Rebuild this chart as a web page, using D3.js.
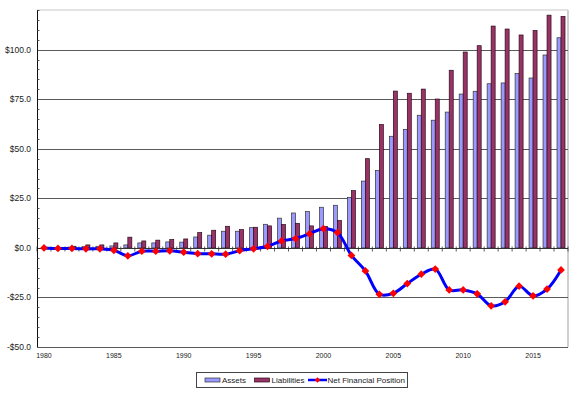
<!DOCTYPE html>
<html>
<head>
<meta charset="utf-8">
<script src="https://cdn.jsdelivr.net/npm/d3@7"></script>
<style>
  body { margin: 0; background: #fff; }
  svg { display: block; font-family: Arial, "Liberation Sans", sans-serif; }
</style>
</head>
<body>
<div id="chart"></div>
<script>
// data
const years = d3.range(1980, 2018);
const assets = [0, 0.2, 0.4, 0.6, 0.8, 1, 1.5, 2.5, 2.5, 3, 2.9, 5.5, 6.4, 8.4, 8.4, 10.2, 11.9, 15, 17.6, 18.3,
  20.5, 21.5, 25.5, 33.7, 39, 56.3, 59.8, 66.9, 64.4, 68.5, 77.6, 79, 82.8, 83.2, 88, 85.7, 97.3, 106];
const liabilities = [0, 0.3, 0.8, 1.5, 1.5, 2.5, 5.4, 3.5, 3.9, 4.2, 4.5, 7.7, 8.9, 10.9, 9.2, 10.4, 11.1, 11.8, 12.4, 11.1,
  10.8, 13.8, 28.9, 45, 62.2, 79.1, 78, 80.1, 75.1, 89.6, 98.8, 102, 111.9, 110.4, 107.4, 109.7, 117.4, 116.8];
const netPosition = [0, -0.3, -0.3, -0.5, -0.5, -1.2, -4, -1.7, -1.7, -1.5, -2.2, -2.9, -3, -3.2, -1.4, -0.5, 0.8, 3.5, 4.7, 7.1,
  9.7, 7.7, -3.8, -11.6, -23.4, -22.9, -18, -13.3, -10.7, -21.2, -21.2, -23.2, -29.2, -27.2, -19.3, -24.2, -20.8, -11.1];
const yTicks = [-50, -25, 0, 25, 50, 75, 100];
const seriesNames = ["Assets", "Liabilities", "Net Financial Position"];

const width = 576, height = 399;
const plot = { left: 37, right: 568, top: 10, bottom: 347 };

const svg = d3.select("#chart").append("svg")
  .attr("width", width)
  .attr("height", height);

const x = d3.scaleBand()
  .domain(years)
  .range([plot.left, plot.right])
  .padding(0);

const y = d3.scaleLinear()
  .domain([-50, 120])
  .range([plot.bottom, plot.top]);

const xc = d => x(d) + x.bandwidth() / 2;

// plot border (top + right, light grey)
svg.append("line")
  .attr("x1", plot.left).attr("x2", plot.right)
  .attr("y1", plot.top).attr("y2", plot.top)
  .attr("stroke", "#c8c8c8").attr("stroke-width", 1.2);
svg.append("line")
  .attr("x1", plot.right).attr("x2", plot.right)
  .attr("y1", plot.top).attr("y2", plot.bottom)
  .attr("stroke", "#d0d0d0").attr("stroke-width", 2);

// gridlines
svg.append("g")
  .selectAll("line")
  .data(yTicks.filter(v => v !== 0))
  .enter()
  .append("line")
    .attr("x1", plot.left).attr("x2", plot.right)
    .attr("y1", d => Math.round(y(d)) + 0.5)
    .attr("y2", d => Math.round(y(d)) + 0.5)
    .attr("stroke", "#5a5a5a")
    .attr("stroke-width", 1);

// bars
const bw = 4;
svg.append("g")
  .selectAll("rect")
  .data(years)
  .enter()
  .append("rect")
    .attr("x", d => xc(d) - bw)
    .attr("y", (d, i) => y(assets[i]))
    .attr("width", bw)
    .attr("height", (d, i) => y(0) - y(assets[i]))
    .attr("fill", "#9999ff")
    .attr("stroke", "#333")
    .attr("stroke-width", 0.7);

svg.append("g")
  .selectAll("rect")
  .data(years)
  .enter()
  .append("rect")
    .attr("x", d => xc(d))
    .attr("y", (d, i) => y(liabilities[i]))
    .attr("width", bw)
    .attr("height", (d, i) => y(0) - y(liabilities[i]))
    .attr("fill", "#993366")
    .attr("stroke", "#2a0a1a")
    .attr("stroke-width", 0.7);

// x axis on zero line
const y0 = Math.round(y(0)) + 0.5;
svg.append("line")
  .attr("x1", plot.left).attr("x2", plot.right)
  .attr("y1", y0).attr("y2", y0)
  .attr("stroke", "#333").attr("stroke-width", 1);

svg.append("g")
  .selectAll("line")
  .data(d3.range(years.length + 1))
  .enter()
  .append("line")
    .attr("x1", i => plot.left + i * x.bandwidth())
    .attr("x2", i => plot.left + i * x.bandwidth())
    .attr("y1", y0 - 2).attr("y2", y0 + 3)
    .attr("stroke", "#333").attr("stroke-width", 0.8);

// x labels every 5 years
svg.append("g")
  .selectAll("text")
  .data(years.filter(d => d % 5 === 0))
  .enter()
  .append("text")
    .attr("x", d => xc(d))
    .attr("y", 358)
    .attr("text-anchor", "middle")
    .style("font-size", "7px")
    .style("fill", "#222")
    .text(d => d);

// y axis
svg.append("line")
  .attr("x1", plot.left + 0.5).attr("x2", plot.left + 0.5)
  .attr("y1", plot.top).attr("y2", plot.bottom)
  .attr("stroke", "#111").attr("stroke-width", 1);

svg.append("g")
  .selectAll("line")
  .data(d3.range(-50, 121, 5).filter(v => v % 25 !== 0))
  .enter()
  .append("line")
    .attr("x1", plot.left).attr("x2", plot.left + 2.5)
    .attr("y1", d => Math.round(y(d)) + 0.5)
    .attr("y2", d => Math.round(y(d)) + 0.5)
    .attr("stroke", "#333").attr("stroke-width", 0.8);

svg.append("g")
  .selectAll("text")
  .data(yTicks)
  .enter()
  .append("text")
    .attr("x", 31)
    .attr("y", d => y(d))
    .attr("dy", "0.35em")
    .attr("text-anchor", "end")
    .style("font-size", "8.5px")
    .style("fill", "#222")
    .text(d => (d < 0 ? "-$" : "$") + Math.abs(d).toFixed(1));

// net financial position line
const line = d3.line()
  .x((d, i) => xc(years[i]))
  .y(d => y(d))
  .curve(d3.curveCatmullRom.alpha(0.5));

svg.append("path")
  .datum(netPosition)
  .attr("d", line)
  .attr("fill", "none")
  .attr("stroke", "#0000ff")
  .attr("stroke-width", 3)
  .attr("stroke-linejoin", "round");

const diamond = d3.symbol().type(d3.symbolSquare).size(30);
svg.append("g")
  .selectAll("path")
  .data(netPosition)
  .enter()
  .append("path")
    .attr("d", diamond)
    .attr("transform", (d, i) => `translate(${xc(years[i])},${y(d)}) rotate(45)`)
    .attr("fill", "#ff0000");

// legend
const lg = svg.append("g");
lg.append("rect")
  .attr("x", 196.5).attr("y", 372.5)
  .attr("width", 211).attr("height", 15)
  .attr("fill", "#fff")
  .attr("stroke", "#444").attr("stroke-width", 1);

lg.append("rect")
  .attr("x", 205).attr("y", 378).attr("width", 15).attr("height", 4)
  .attr("fill", "#9999ff").attr("stroke", "#333").attr("stroke-width", 0.7);
lg.append("rect")
  .attr("x", 254.5).attr("y", 378).attr("width", 15).attr("height", 4)
  .attr("fill", "#993366").attr("stroke", "#2a0a1a").attr("stroke-width", 0.7);
lg.append("line")
  .attr("x1", 308).attr("x2", 327).attr("y1", 380).attr("y2", 380)
  .attr("stroke", "#0000ff").attr("stroke-width", 2.5);
lg.append("path")
  .attr("d", d3.symbol().type(d3.symbolSquare).size(16))
  .attr("transform", "translate(317.5,380) rotate(45)")
  .attr("fill", "#ff0000");

lg.selectAll("text")
  .data(seriesNames)
  .enter()
  .append("text")
    .attr("x", (d, i) => [222, 271.5, 327.5][i])
    .attr("y", 380)
    .attr("dy", "0.35em")
    .style("font-size", "8px")
    .style("fill", "#222")
    .text(d => d);
</script>
</body>
</html>
